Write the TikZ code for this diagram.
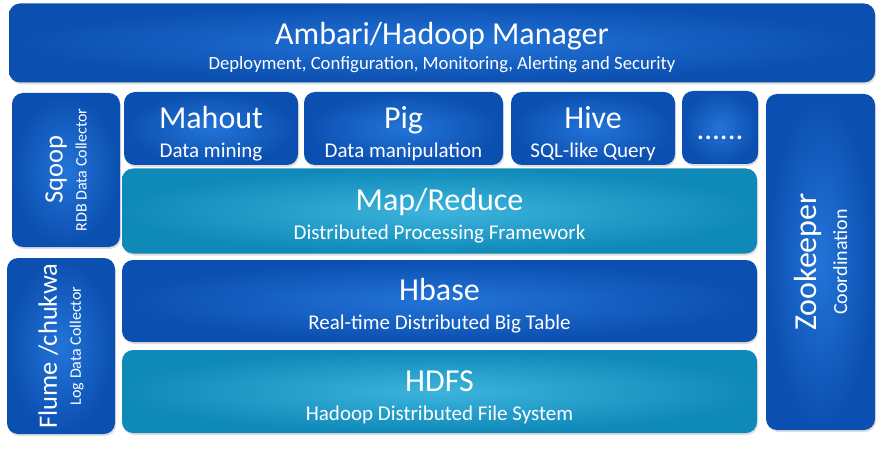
\documentclass[tikz,border=0pt]{standalone}
\usepackage{fontspec}
\setmainfont{Carlito}
\usepackage{tikz}
\usetikzlibrary{shapes,shadows,backgrounds}
\definecolor{deepblue}{HTML}{0B4FB0}
\definecolor{deepblueglow}{HTML}{2374D8}
\definecolor{tealblue}{HTML}{0F89B8}
\definecolor{tealglow}{HTML}{3CB4DD}
\newcommand{\layertitle}{\fontsize{32}{34}\selectfont\rule{0pt}{32pt}}
\newcommand{\layersub}{\fontsize{21}{29}\selectfont}
\tikzset{
  blockA/.style={ rectangle, rounded corners=11pt, inner sep=0pt, align=center, text=white,
    font=\layersub, inner color=deepblueglow, outer color=deepblue,
    drop shadow={opacity=0.25, shadow xshift=1pt, shadow yshift=-2pt} }
}
\tikzset{
  blockB/.style={ blockA, inner color=tealglow, outer color=tealblue }
}
\tikzset{
  sidebox/.style={ blockA, rotate=90, font=\fontsize{16}{24}\selectfont }
}
\begin{document}
\begin{tikzpicture}[x=1pt, y=-1pt]
      \useasboundingbox (0, 0) rectangle (882, 454);
      % manager on top
      \node[blockA, font=\fontsize{18.7}{25}\selectfont, minimum width=866, minimum height=79] (ambari) at (442, 43)
        {{\layertitle Ambari/Hadoop Manager}\\Deployment, Configuration, Monitoring, Alerting and Security};

      % collectors on the left
      \node[sidebox, minimum width=154, minimum height=108] (sqoop) at (66, 170)
        {{\fontsize{26.5}{28}\selectfont Sqoop}\\RDB Data Collector};
      \node[sidebox, minimum width=176, minimum height=108] (flume) at (61, 346)
        {{\fontsize{26.5}{28}\selectfont Flume /chukwa}\\Log Data Collector};

      % tools row
      \node[blockA, minimum width=174, minimum height=73] (mahout) at (211, 128.5)
        {{\layertitle Mahout}\\Data mining};
      \node[blockA, minimum width=199, minimum height=73] (pig) at (403.5, 128.5)
        {{\layertitle Pig}\\Data manipulation};
      \node[blockA, minimum width=164, minimum height=73] (hive) at (593, 128.5)
        {{\layertitle Hive}\\SQL-like Query};
      \node[blockA, minimum width=76, minimum height=73, text height=24pt, text depth=0pt] (more) at (720, 127.5)
        {\fontsize{31}{31}\selectfont ......};

      % core layers
      \node[blockB, minimum width=635, minimum height=85] (mapred) at (439.5, 211)
        {{\layertitle Map/Reduce}\\Distributed Processing Framework};
      \node[blockA, minimum width=635, minimum height=82] (hbase) at (439.5, 301)
        {{\layertitle Hbase}\\Real-time Distributed Big Table};
      \node[blockB, minimum width=635, minimum height=83] (hdfs) at (439.5, 391.5)
        {{\layertitle HDFS}\\Hadoop Distributed File System};

      % coordination on the right
      \node[sidebox, font=\fontsize{20}{31}\selectfont, minimum width=336, minimum height=109] (zookeeper) at (820.5, 262)
        {{\fontsize{32}{34}\selectfont Zookeeper}\\Coordination};
    \end{tikzpicture}
\end{document}
